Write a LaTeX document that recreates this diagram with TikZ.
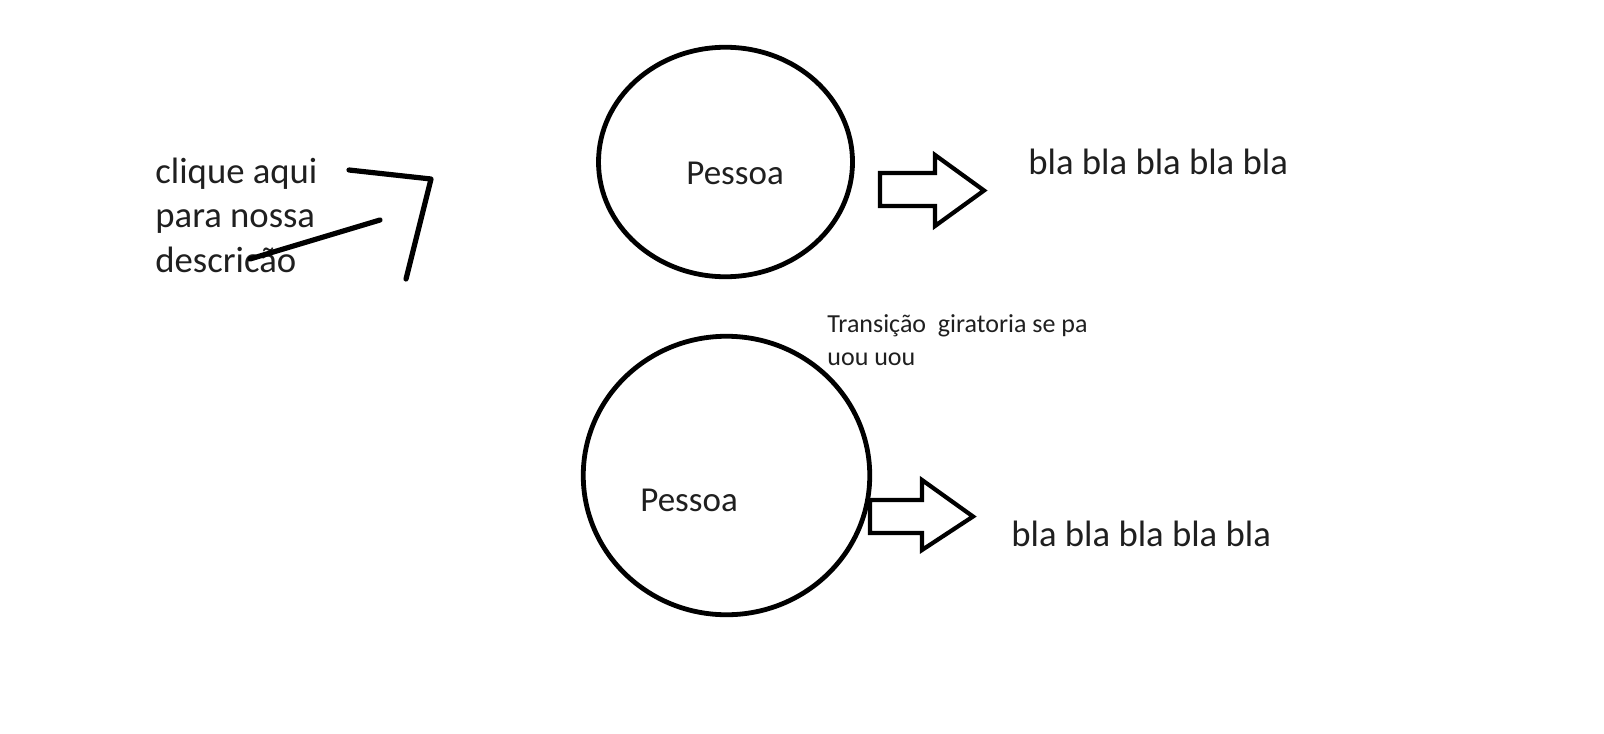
\documentclass[tikz,border=0pt]{standalone}
\usepackage{fontspec}
\setmainfont{Carlito}
\usetikzlibrary{shapes.geometric}
\tikzset{
  bigtxt/.style={anchor=base west, inner sep=0pt, text=black!88, align=left, font=\fontsize{18.35}{22.25}\selectfont},
  nametxt/.style={anchor=base west, inner sep=0pt, text=black!88, font=\fontsize{17.5}{21}\selectfont},
  smalltxt/.style={anchor=base west, inner sep=0pt, text=black!88, align=left, font=\fontsize{13}{16.5}\selectfont},
  person/.style={draw, ellipse, line width=2.4pt, inner sep=0pt},
  scribble/.style={line width=2.6pt, line cap=round, line join=round},
  blockarrow/.style={line width=2.1pt, line join=miter}
}

\begin{document}
\begin{tikzpicture}[x=0.5pt, y=-0.5pt]
			%%%%% START %%%%%
			\useasboundingbox (0,0) rectangle (1604,733);
			
			% left note and its strokes (base = last line)
			\node[bigtxt] (hint) at (155,272) {clique aqui\\para nossa\\descricão};
			\draw[scribble] (349,170) -- (431,179) -- (406,279);
			\draw[scribble] (380,220) -- (250,259);
			
			% upper person
			\node[person, minimum width=127pt, minimum height=114.75pt] (p1) at (725.5,162) {};
			\node[nametxt] (name1) at (686,184) {Pessoa};
			\draw[blockarrow] (880,173) -- (935,173) -- (935,155) -- (984,190.5) -- (935,226) -- (935,206) -- (880,206) -- cycle;
			\node[bigtxt] (bla1) at (1028,174) {bla bla bla bla bla};
			
			\node[smalltxt] (note) at (827,365) {Transição\ \ giratoria se pa\\uou uou};
			
			% lower person
			\node[person, minimum width=143.25pt, minimum height=139.25pt] (p2) at (726.5,475.5) {};
			\node[nametxt] (name2) at (640,511) {Pessoa};
			\draw[blockarrow] (870,500) -- (922,500) -- (922,480) -- (973,516.5) -- (922,550) -- (922,533) -- (870,533) -- cycle;
			\node[bigtxt] (bla2) at (1011,546) {bla bla bla bla bla};
			
			%%%%% END %%%%%
\end{tikzpicture}
\end{document}
